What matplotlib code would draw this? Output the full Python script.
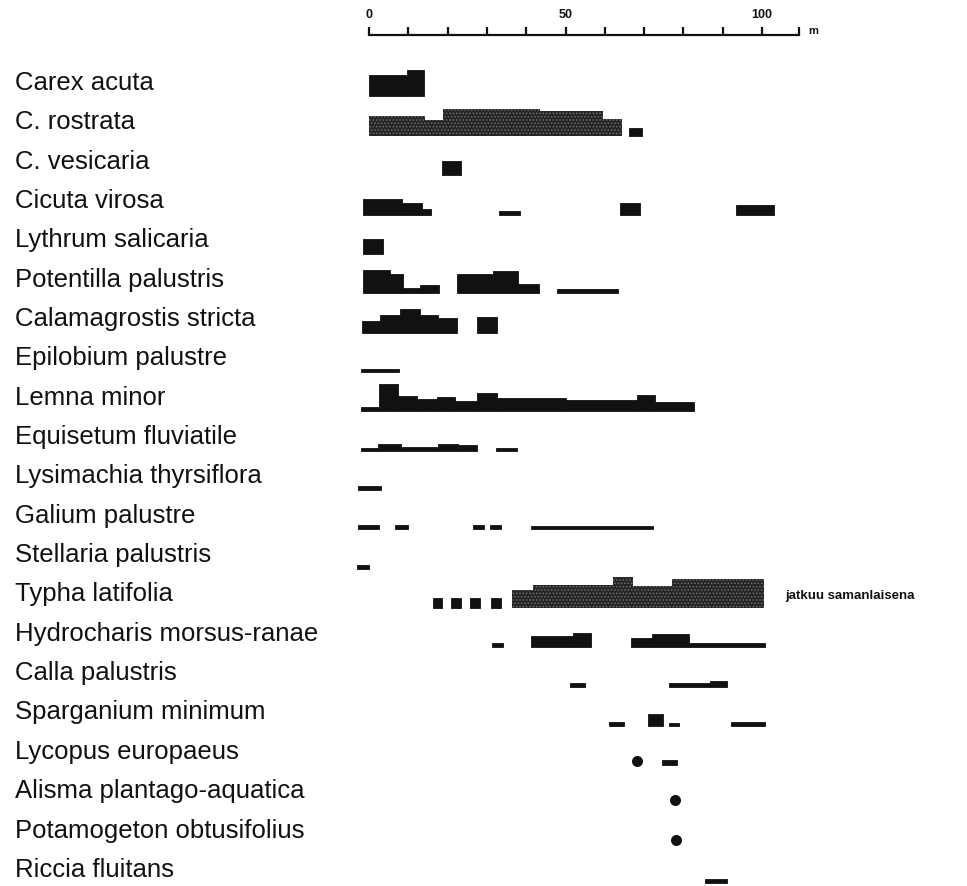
import numpy as np
import matplotlib
matplotlib.use("Agg")
import matplotlib.pyplot as plt
import matplotlib.transforms as mtransforms

# lajit ylhäältä alas
species = [
    "Carex acuta", "C. rostrata", "C. vesicaria", "Cicuta virosa",
    "Lythrum salicaria", "Potentilla palustris", "Calamagrostis stricta",
    "Epilobium palustre", "Lemna minor", "Equisetum fluviatile",
    "Lysimachia thyrsiflora", "Galium palustre", "Stellaria palustris",
    "Typha latifolia", "Hydrocharis morsus-ranae", "Calla palustris",
    "Sparganium minimum", "Lycopus europaeus", "Alisma plantago-aquatica",
    "Potamogeton obtusifolius", "Riccia fluitans",
]

# (alku m, loppu m, runsaus)
carex_acuta = [(0, 9.6, 7), (9.6, 14.0, 8.7)]
c_rostrata = [(0, 14.2, 6.7), (14.2, 18.9, 5.3), (18.9, 43.5, 9), (43.5, 59.6, 8.3),
              (59.6, 64.3, 5.7), (66.2, 69.4, 2.7)]
c_vesicaria = [(18.5, 23.3, 4.7)]
cicuta = [(-1.4, 8.3, 5.3), (8.3, 13.4, 3.7), (13.4, 15.7, 1.7), (33.2, 38.4, 1.3),
          (63.9, 69.0, 3.7), (93.4, 103.0, 3.3)]
lythrum = [(-1.4, 3.6, 5)]
potentilla = [(-1.4, 5.4, 7.7), (5.4, 8.7, 6.3), (8.7, 13.0, 1.7), (13.0, 17.9, 2.7),
              (22.3, 31.6, 6.3), (31.6, 37.9, 7.3), (37.9, 43.3, 3), (47.9, 63.4, 1.3)]
calamagrostis = [(-1.8, 2.8, 4), (2.8, 7.9, 5.7), (7.9, 13.0, 7.7), (13.0, 17.6, 6),
                 (17.6, 22.5, 5), (27.4, 32.5, 5.3)]
epilobium = [(-2, 7.7, 1)]
lemna = [(-2, 2.6, 1.3), (2.6, 7.5, 9), (7.5, 12.1, 5), (12.1, 17.2, 4), (17.2, 21.9, 4.7),
         (21.9, 27.4, 3.3), (27.4, 32.5, 6), (32.5, 50.0, 4.3), (50.0, 68.2, 3.7),
         (68.2, 72.8, 5.3), (72.8, 82.7, 3)]
equisetum = [(-2.1, 2.2, 1), (2.2, 8.1, 2.3), (8.1, 17.6, 1.3), (17.6, 22.7, 2.3),
             (22.7, 27.4, 1.7), (32.3, 37.6, 1)]
lysimachia = [(-2.7, 3.0, 1.3)]
galium = [(-2.7, 2.6, 1.3), (6.6, 10.0, 1.3), (26.4, 29.2, 1.3), (30.8, 33.5, 1.3),
          (41.2, 72.2, 1.2)]
stellaria = [(-3, 0.1, 1.3)]
typha = [(16.2, 18.5, 3.3), (20.9, 23.3, 3.3), (25.7, 28.2, 3.3), (31.0, 33.5, 3.3),
         (36.5, 41.6, 6), (41.6, 62.2, 7.7), (62.2, 67.1, 10.3), (67.1, 77.0, 7.3),
         (77.0, 100.5, 9.7)]
hydrocharis = [(31.2, 34.0, 1.3), (41.1, 52.0, 3.7), (52.0, 56.6, 4.7), (66.7, 72.0, 3),
               (72.0, 81.3, 4.3), (81.3, 100.8, 1.3)]
calla = [(51.1, 55.0, 1.3), (76.2, 86.8, 1.3), (86.8, 91.2, 2)]
sparganium = [(61.1, 64.8, 1.3), (71.1, 74.7, 4), (76.2, 78.9, 1), (92.0, 100.8, 1.3)]
lycopus = [(74.5, 78.3, 1.7)]
alisma = []
potamogeton = []
riccia = [(85.6, 91.1, 1.3)]

segments = [carex_acuta, c_rostrata, c_vesicaria, cicuta, lythrum, potentilla,
            calamagrostis, epilobium, lemna, equisetum, lysimachia, galium, stellaria,
            typha, hydrocharis, calla, sparganium, lycopus, alisma, potamogeton, riccia]

# yksittäiset pisteet (laji, kohta m)
dot_species = ["Lycopus europaeus", "Alisma plantago-aquatica", "Potamogeton obtusifolius"]
dot_x = [68.2, 77.9, 78.0]

stippled = ["C. rostrata", "Typha latifolia"]

ticks = [0, 10, 20, 30, 40, 50, 60, 70, 80, 90, 100]
tick_labels = ["0", "", "", "", "", "50", "", "", "", "", "100"]
axis_end = 109.4

unit = 3 / 39.35      # yksi runsausyksikkö rivikorkeuksina
base = 0.343          # pohjaviiva rivin keskeltä alaspäin

plt.rcParams['font.family'] = ['Liberation Sans', 'DejaVu Sans']
plt.rcParams['hatch.linewidth'] = 0.7

fig = plt.figure(figsize=(9.67, 8.86), dpi=100)
ax = fig.add_axes([369 / 967, 0, (799 - 369) / 967, (886 - 35) / 886])
ax.set_xlim(0, axis_end)
ax.set_ylim(20.41, -1.22)

label_tr = mtransforms.blended_transform_factory(fig.transFigure, ax.transData)

for i, (name, segs) in enumerate(zip(species, segments)):
    for x0, x1, v in segs:
        if name in stippled and v >= 5:
            ax.bar(x0, -v * unit, width=x1 - x0, bottom=i + base, align='edge',
                   color='#262626', edgecolor='#6e6e6e', hatch='.....', linewidth=0,
                   clip_on=False)
        else:
            ax.bar(x0, -v * unit, width=x1 - x0, bottom=i + base, align='edge',
                   color='#111111', edgecolor='#111111', linewidth=0.6,
                   joinstyle='round', clip_on=False)
    fig.text(15 / 967, i, name, fontsize=18.5, va='center', ha='left',
             transform=label_tr, color='#111111')

for name, x in zip(dot_species, dot_x):
    i = species.index(name)
    ax.scatter(x, i + base - 1.5 * unit, s=48, color='#111111', clip_on=False, zorder=3)

ax.text(105.9, species.index("Typha latifolia") + 0.05, "jatkuu samanlaisena",
        fontsize=9.5, fontweight='bold', va='center', ha='left', color='#111111')

for s in ['left', 'right', 'bottom']:
    ax.spines[s].set_visible(False)
ax.spines['top'].set_linewidth(1.6)
ax.spines['top'].set_color('#111111')
ax.set_yticks([])
ax.xaxis.tick_top()
ax.set_xticks(ticks + [axis_end], tick_labels + [""])
ax.tick_params(axis='x', direction='out', length=6, width=1.6, pad=4,
               labelsize=9, colors='#111111')
for lab in ax.get_xticklabels():
    lab.set_fontweight('bold')
ax.annotate("m", xy=(113, 1), xycoords=('data', 'axes fraction'), xytext=(0, 3),
            textcoords='offset points', ha='center', va='center', fontsize=8,
            fontweight='bold', color='#111111')

fig.savefig("out.png", dpi=100)
